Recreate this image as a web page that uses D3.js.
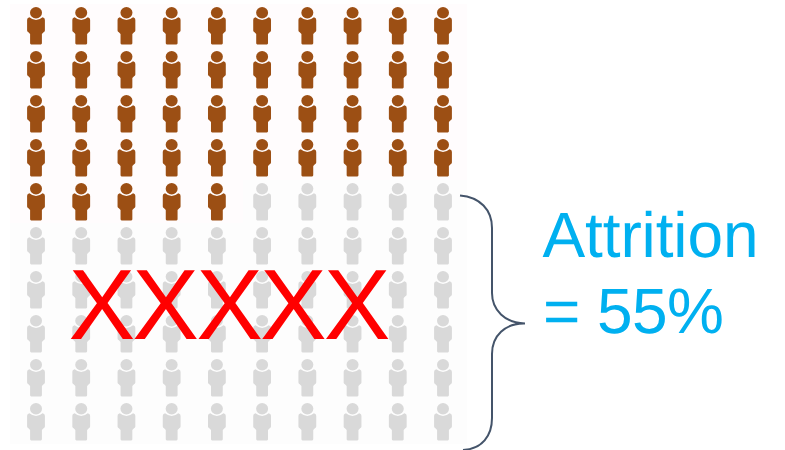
<!DOCTYPE html>
<html><head><meta charset="utf-8">
<script src="https://cdnjs.cloudflare.com/ajax/libs/d3/7.8.5/d3.min.js"></script>
<style>html,body{margin:0;padding:0;background:#fff}svg{display:block}text{text-rendering:geometricPrecision}</style>
</head><body><svg id="c" width="785" height="450"></svg>
<script>
const columns = [1,2,3,4,5,6,7,8,9,10];
const rows = [1,2,3,4,5,6,7,8,9,10];
const stayedCount = 45;
const attritionPercent = 55;
const labelLines = ["Attrition", "= 55%"];
const crossMarks = "XXXXX";

const svg = d3.select("#c");
const x = d3.scalePoint().domain(columns).range([36, 443]);
const y = d3.scalePoint().domain(rows).range([7, 403]);
const people = d3.range(stayedCount + attritionPercent).map(i => ({
  col: columns[i % 10], row: rows[Math.floor(i / 10)], stayed: i < stayedCount
}));

// faint tints behind the figures
svg.append("rect").attr("x", 10).attr("y", 4).attr("width", 457).attr("height", 440).attr("fill", "#fdfdfd");
svg.append("path").attr("fill", "#fffcfd")
  .attr("d", "M10,4H467V180H243V223H10Z");

const body = "M-7.6,10.8Q-8.9,11-8.9,13L-8.9,23.5Q-8.9,24.8-7.6,25.2L-5.9,27L-5.9,36.3Q-5.9,37.4-4.8,37.4L4.8,37.4Q5.9,37.4 5.9,36.3L5.9,27L7.6,25.2Q8.9,24.8 8.9,23.5L8.9,13Q8.9,11 7.6,10.8L6.6,10.3Q0,15.8-6.6,10.3Z";
const g = svg.selectAll("g.person").data(people).join("g").attr("class", "person")
  .attr("transform", d => `translate(${x(d.col)},${y(d.row)})`)
  .attr("fill", d => d.stayed ? "#9c4f14" : "#d9d9d9");
g.append("ellipse").attr("cx", 0).attr("cy", 5.7).attr("rx", 6).attr("ry", 5.7);
g.append("path").attr("d", body);

svg.append("text").attr("x", 68.5).attr("y", 339)
  .attr("font-family", "Liberation Sans").attr("font-size", 100)
  .attr("textLength", 322).attr("lengthAdjust", "spacing")
  .attr("fill", "#ff0000").text(crossMarks);

const p = d3.path();
p.moveTo(460, 195.5);
p.bezierCurveTo(480, 197, 492, 210, 492, 228);
p.lineTo(492, 293);
p.bezierCurveTo(492, 310, 505, 323, 525, 323.5);
p.bezierCurveTo(505, 323, 492, 336, 492, 354);
p.lineTo(492, 418);
p.bezierCurveTo(492, 436, 482, 449, 463, 450);
svg.append("path").attr("d", p.toString()).attr("fill", "none")
  .attr("stroke", "#44546a").attr("stroke-width", 2);

svg.selectAll("text.label").data(labelLines).join("text").attr("class", "label")
  .attr("x", (d, i) => i ? 543 : 542.5).attr("y", (d, i) => i ? 333 : 257)
  .attr("font-family", "Liberation Sans").attr("font-size", 64)
  .attr("textLength", (d, i) => i ? 181 : 216).attr("lengthAdjust", "spacing")
  .attr("fill", "#00b0f0").text(d => d);
</script></body></html>
